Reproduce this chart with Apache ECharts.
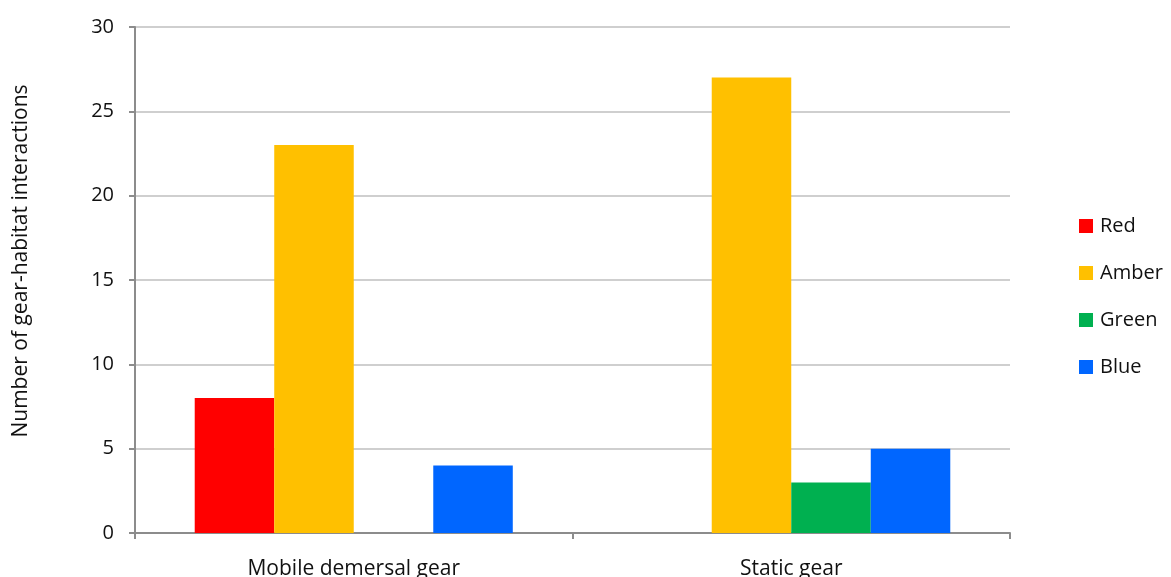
<!DOCTYPE html>
<html><head><meta charset="utf-8">
<script src="https://cdn.jsdelivr.net/npm/echarts@6/dist/echarts.min.js"></script>
<style>html,body{margin:0;padding:0;background:#fff}#c{width:1171px;height:577px}</style>
</head><body><div id="c"></div>
<script>
const categories = ['Mobile demersal gear', 'Static gear'];
const seriesNames = ['Red', 'Amber', 'Green', 'Blue'];
const redValues = [8, 0];
const amberValues = [23, 27];
const greenValues = [0, 3];
const blueValues = [4, 5];
const colors = ['#ff0000', '#ffc000', '#00b050', '#0066ff'];
const yTicks = [0, 5, 10, 15, 20, 25, 30];

const FONT = '"Open Sans", "Noto Sans", sans-serif';
const chart = echarts.init(document.getElementById('c'), null, {renderer: 'canvas'});
const vals = [redValues, amberValues, greenValues, blueValues];
chart.setOption({
  animation: false,
  textStyle: {fontFamily: FONT},
  grid: {left: 135, right: 161, top: 27, bottom: 44, containLabel: false, outerBoundsMode: 'none'},
  legend: {
    orient: 'vertical', left: 1074, top: 207, itemGap: 19, itemWidth: 14, itemHeight: 14,
    icon: 'rect', data: seriesNames, padding: 5,
    textStyle: {fontFamily: FONT, fontSize: 20, color: '#111', padding: [0, 0, 0, 2], lineHeight: 28}
  },
  xAxis: {
    type: 'category', data: categories,
    axisLine: {lineStyle: {color: '#8c8c8c', width: 2}},
    axisTick: {show: true, length: 6, lineStyle: {color: '#8c8c8c', width: 2}},
    axisLabel: {fontFamily: FONT, fontSize: 21, color: '#111', margin: 26}
  },
  yAxis: {
    type: 'value', min: 0, max: 30, interval: 5,
    name: 'Number of gear-habitat interactions', nameLocation: 'middle', nameGap: 103,
    nameTextStyle: {fontFamily: FONT, fontSize: 21, color: '#111', padding: [0, 0, 0, 38]},
    axisLine: {show: true, lineStyle: {color: '#8c8c8c', width: 2}},
    axisTick: {show: true, length: 6, lineStyle: {color: '#8c8c8c', width: 2}},
    axisLabel: {fontFamily: FONT, fontSize: 20, color: '#111', margin: 21,
      formatter: v => yTicks.includes(v) ? String(v) : ''},
    splitLine: {lineStyle: {color: '#bfbfbf', width: 1.5}}
  },
  series: seriesNames.map((n, i) => ({
    name: n, type: 'bar', data: vals[i], barGap: '0%', barCategoryGap: '27.3%',
    itemStyle: {color: colors[i]}
  }))
});
</script></body></html>
